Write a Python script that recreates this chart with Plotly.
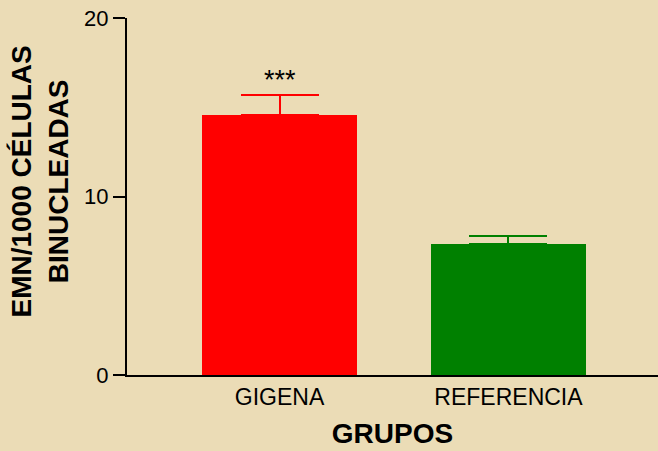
import plotly.graph_objects as go

categories = ["GIGENA", "REFERENCIA"]
means = [14.55, 7.32]
sem = [1.15, 0.47]
colors = ["#FF0000", "#008000"]
significance = ["***", ""]

FONT = "Arial, 'Liberation Sans', sans-serif"

fig = go.Figure()
for i, cat in enumerate(categories):
    fig.add_trace(go.Bar(
        x=[i], y=[means[i]], width=0.677,
        marker=dict(color=colors[i], line=dict(width=0)),
        error_y=dict(type="data", array=[sem[i]], symmetric=False, arrayminus=[0],
                     color=colors[i], thickness=2, width=39),
        showlegend=False, name=cat,
    ))
    if significance[i]:
        fig.add_annotation(x=i, y=means[i] + sem[i], text=significance[i],
                           showarrow=False, yshift=15,
                           font=dict(family=FONT, size=27, color="black"))

fig.add_annotation(xref="paper", yref="paper", x=-0.165, y=0.543,
                   text="<b>EMN/1000 CÉLULAS<br>BINUCLEADAS</b>", textangle=-90,
                   showarrow=False, xanchor="center", yanchor="middle",
                   font=dict(family=FONT, size=28, color="black"))

fig.update_layout(
    width=658, height=451,
    margin=dict(l=127, r=0, t=18, b=76),
    paper_bgcolor="#EBDCB6", plot_bgcolor="rgba(0,0,0,0)",
    font=dict(family=FONT, color="black"),
    bargap=0,
    xaxis=dict(range=[-0.666, 1.653], tickvals=[0, 1], ticktext=categories,
               showline=True, linecolor="black", linewidth=2, ticks="",
               showgrid=False, zeroline=False, tickfont=dict(size=23),
               title=dict(text="<b>GRUPOS</b>", font=dict(size=28), standoff=15)),
    yaxis=dict(range=[0, 20], tickvals=[0, 10, 20], showline=True, linecolor="black",
               linewidth=2, ticks="outside", ticklen=12, tickwidth=2, tickcolor="black",
               showgrid=False, zeroline=False, tickfont=dict(size=22)),
)

fig.write_html("out.html", config={"displayModeBar": False},
               post_script="document.body.style.margin='0';")
